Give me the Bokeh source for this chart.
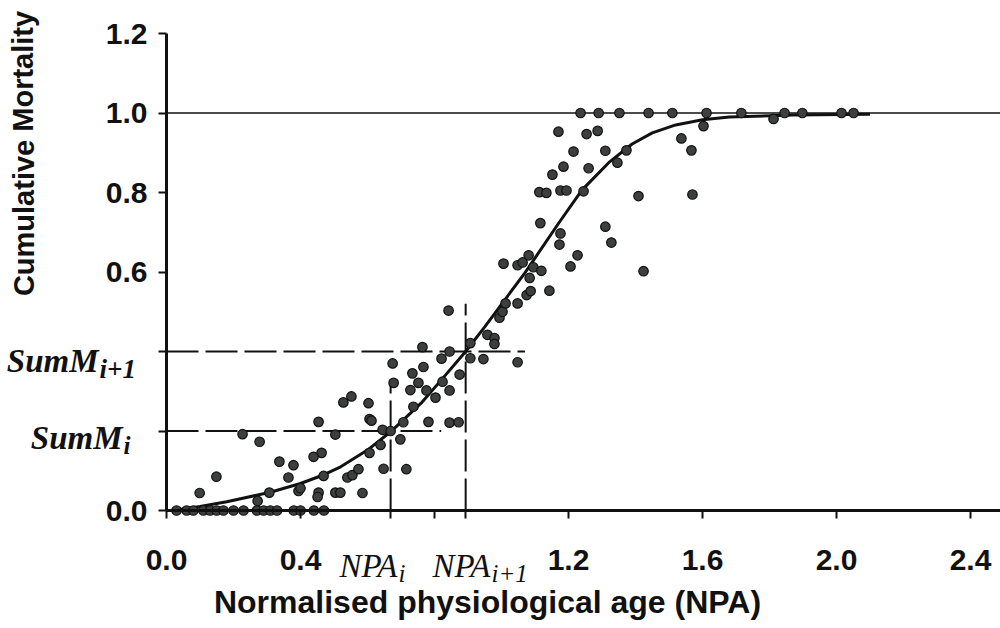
from bokeh.plotting import figure
from bokeh.models import Range1d, FixedTicker, PrintfTickFormatter, Label
from bokeh.embed import file_html
from bokeh.resources import INLINE

# ---------------- data ----------------
NPA_i = 0.669
NPA_i1 = 0.893
SumM_i = 0.2
SumM_i1 = 0.4
full_mortality = 1.0
x_max = 2.49
y_max = 1.2

# fitted cumulative mortality curve
curve_x = [0.02, 0.10, 0.18, 0.31, 0.40, 0.47, 0.52, 0.60, 0.669, 0.76, 0.82, 0.893,
           0.95, 1.01, 1.07, 1.17, 1.24, 1.32, 1.39, 1.45, 1.52, 1.60, 1.68, 1.87, 2.10]
curve_y = [0.0, 0.010, 0.022, 0.046, 0.068, 0.090, 0.110, 0.152, 0.198, 0.270, 0.328, 0.400,
           0.462, 0.530, 0.598, 0.722, 0.806, 0.875, 0.922, 0.950, 0.970, 0.983, 0.990, 0.995, 0.997]

# observed points
obs_x = [0.03, 0.06, 0.08, 0.11, 0.13, 0.15, 0.17, 0.20, 0.23, 0.27, 0.29, 0.31, 0.33, 0.38,
         0.40, 0.44, 0.47,
         0.528, 0.552, 0.603, 0.606, 0.612, 0.454, 0.227, 0.278, 0.504, 0.463, 0.439, 0.337,
         0.379, 0.364, 0.149, 0.099, 0.469, 0.540, 0.555, 0.573, 0.606, 0.394, 0.400, 0.307,
         0.454, 0.451, 0.504, 0.519, 0.585, 0.272,
         0.675, 0.678, 0.734, 0.752, 0.728, 0.776, 0.803, 0.737, 0.707, 0.782, 0.845, 0.872,
         0.645, 0.669, 0.698, 0.639, 0.648, 0.716,
         0.842, 0.764, 0.821, 0.767, 0.824, 0.845, 0.845, 0.875, 0.907, 0.907, 0.946, 0.958,
         0.979, 0.979, 1.048, 0.994, 1.003, 1.012, 1.048, 1.075, 1.087, 1.143, 1.084, 1.006,
         1.048, 1.063, 1.081, 1.095, 1.119, 1.206, 1.227, 1.424,
         1.116, 1.176, 1.173, 1.310, 1.328, 1.113, 1.134, 1.176, 1.194, 1.245, 1.409, 1.152,
         1.185, 1.260, 1.346, 1.215, 1.310, 1.373, 1.170, 1.254, 1.287, 1.537, 1.567, 1.570,
         1.603, 1.812,
         1.236, 1.290, 1.352, 1.439, 1.510, 1.612, 1.716, 1.845, 1.898, 2.015, 2.051]
obs_y = [0.0, 0.0, 0.0, 0.0, 0.0, 0.0, 0.0, 0.0, 0.0, 0.0, 0.0, 0.0, 0.0, 0.0,
         0.0, 0.0, 0.0,
         0.272, 0.287, 0.270, 0.230, 0.226, 0.223, 0.192, 0.173, 0.191, 0.145, 0.135, 0.123,
         0.114, 0.083, 0.085, 0.044, 0.087, 0.083, 0.089, 0.104, 0.145, 0.049, 0.056, 0.045,
         0.045, 0.034, 0.045, 0.045, 0.044, 0.024,
         0.370, 0.321, 0.345, 0.321, 0.303, 0.302, 0.284, 0.261, 0.222, 0.223, 0.221, 0.222,
         0.203, 0.200, 0.179, 0.165, 0.105, 0.104,
         0.503, 0.411, 0.382, 0.361, 0.324, 0.400, 0.302, 0.342, 0.421, 0.383, 0.381, 0.442,
         0.434, 0.419, 0.373, 0.485, 0.500, 0.521, 0.521, 0.542, 0.552, 0.553, 0.585, 0.621,
         0.617, 0.624, 0.642, 0.612, 0.603, 0.614, 0.642, 0.602,
         0.723, 0.697, 0.669, 0.714, 0.674, 0.801, 0.799, 0.805, 0.805, 0.803, 0.791, 0.845,
         0.865, 0.861, 0.875, 0.903, 0.905, 0.906, 0.953, 0.947, 0.955, 0.936, 0.906, 0.795,
         0.967, 0.985,
         1.0, 1.0, 1.0, 1.0, 1.0, 1.0, 1.0, 1.0, 1.0, 1.0, 1.0]

# extents of the dashed guide lines
guide_h_end = [0.82, 1.07]   # for SumM_i, SumM_i1
guide_v_top = [0.33, 0.52]   # for NPA_i, NPA_i1

x_ticks = [0.0, 0.4, NPA_i, 0.8, NPA_i1, 1.2, 1.6, 2.0, 2.4]
y_ticks = [0.0, 0.2, 0.4, 0.6, 0.8, 1.0, 1.2]

INK = "#111111"
W, H = 1000, 628
# plot frame fills the page; axes are drawn at fixed data locations
LEFT, BOTTOM = 166, 510                  # canvas pixels of the data origin
XSCALE, YSCALE = 335.0, 397.5            # pixels per data unit

x_range = Range1d(-LEFT / XSCALE, (W - LEFT) / XSCALE)
y_range = Range1d(-(H - BOTTOM) / YSCALE, BOTTOM / YSCALE)

p = figure(width=W, height=H, output_backend="svg", toolbar_location=None,
           x_range=x_range, y_range=y_range,
           min_border_left=0, min_border_right=0, min_border_top=0, min_border_bottom=0)
p.outline_line_color = None
p.grid.visible = False
p.background_fill_color = "white"

for ax, ticks, bounds in ((p.xaxis[0], x_ticks, (0, x_max)), (p.yaxis[0], y_ticks, (0, y_max))):
    ax.fixed_location = 0
    ax.bounds = bounds
    ax.ticker = FixedTicker(ticks=ticks, minor_ticks=[])
    ax.formatter = PrintfTickFormatter(format="%.1f")
    ax.axis_line_width = 3
    ax.axis_line_color = INK
    ax.major_tick_line_width = 2
    ax.major_tick_line_color = INK
    ax.major_tick_out = 8
    ax.major_tick_in = 0
    ax.minor_tick_line_color = None
    ax.major_label_text_font = "Liberation Sans"
    ax.major_label_text_font_style = "bold"
    ax.major_label_text_font_size = "30px"
    ax.major_label_text_color = INK

p.xaxis[0].major_label_standoff = 31
p.yaxis[0].major_label_standoff = 11
p.xaxis[0].major_label_overrides = {NPA_i: "", 0.8: "", NPA_i1: ""}
p.yaxis[0].major_label_overrides = {0.2: "", 0.4: ""}

# reference line at full mortality
p.line([0, x_max], [full_mortality, full_mortality], line_color=INK, line_width=1.5)

# dashed guide lines
for yv, xe in zip([SumM_i, SumM_i1], guide_h_end):
    p.line([0, xe], [yv, yv], line_color=INK, line_width=2, line_dash="32 7")
for xv, yt in zip([NPA_i, NPA_i1], guide_v_top):
    p.line([xv, xv], [0, yt], line_color=INK, line_width=2, line_dash="32 7")

# fitted curve
p.line(curve_x, curve_y, line_color=INK, line_width=3)

# observations
p.scatter(obs_x, obs_y, size=9.5, fill_color="#3d3f3e", line_color=INK, line_width=1.2)

# ---- annotations placed by canvas pixel position ----
def lab(px, py, text, align="left", baseline="alphabetic", angle=0.0,
        font="Liberation Sans", style="bold", size="30px"):
    p.add_layout(Label(x=(px - LEFT) / XSCALE, y=(BOTTOM - py) / YSCALE, text=text,
                       angle=angle, text_align=align, text_baseline=baseline,
                       text_font=font, text_font_style=style, text_font_size=size,
                       text_color=INK))

lab(23, 153, "Cumulative Mortality", "center", "middle", angle=1.5708, size="29px")
lab(487, 601, "Normalised physiological age (NPA)", "center", "middle", size="32px")

def sub_label(px_right, py_base, main, sub, style, sub_size):
    lab(px_right, py_base, main, "right", font="Liberation Serif", style=style, size="33px")
    lab(px_right + 1, py_base + 8, sub, "left", font="Liberation Serif", style=style, size=sub_size)

sub_label(98, 360, "SumM", "i+1", "bold italic", "27px")
sub_label(122, 437, "SumM", "i", "bold italic", "25px")
sub_label(397, 565, "NPA", "i", "italic", "25px")
sub_label(490, 565, "NPA", "i+1", "italic", "25px")

open("out.html", "w").write(file_html(p, INLINE))
